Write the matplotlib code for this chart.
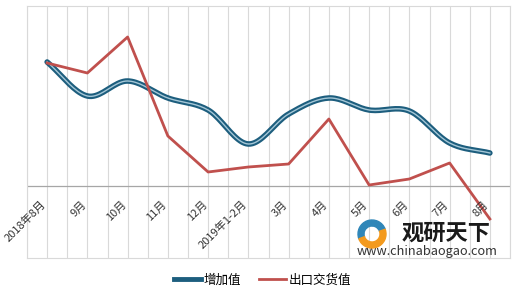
import numpy as np
import matplotlib
matplotlib.use("Agg")
import matplotlib.pyplot as plt
from matplotlib.patches import Wedge
from matplotlib.lines import Line2D

plt.rcParams['font.family'] = ['Noto Sans CJK SC', 'DejaVu Sans']

categories = ["2018年8月", "9月", "10月", "11月", "12月", "2019年1-2月",
              "3月", "4月", "5月", "6月", "7月", "8月"]
added_value = [12.4, 9.0, 10.5, 8.8, 7.6, 4.2, 7.2, 8.8, 7.6, 7.5, 4.3, 3.3]
export_value = [12.3, 11.3, 14.9, 5.0, 1.4, 1.9, 2.2, 6.7, 0.1, 0.7, 2.3, -3.3]

def catmull_rom(x, y, n=20):
    x = np.asarray(x, float); y = np.asarray(y, float)
    px = np.concatenate([[2*x[0]-x[1]], x, [2*x[-1]-x[-2]]])
    py = np.concatenate([[2*y[0]-y[1]], y, [2*y[-1]-y[-2]]])
    xs, ys = [], []
    t = np.linspace(0, 1, n, endpoint=False)
    def cr(a0, a1, a2, a3):
        return 0.5*((2*a1) + (-a0+a2)*t + (2*a0-5*a1+4*a2-a3)*t**2 + (-a0+3*a1-3*a2+a3)*t**3)
    for i in range(1, len(px)-2):
        xs.append(cr(px[i-1], px[i], px[i+1], px[i+2]))
        ys.append(cr(py[i-1], py[i], py[i+1], py[i+2]))
    xs.append([x[-1]]); ys.append([y[-1]])
    return np.concatenate(xs), np.concatenate(ys)

fig = plt.figure(figsize=(5.2, 2.94), dpi=100)
ax = fig.add_axes([27/520, 1-258/294, (510-27)/520, (258-6)/294])

x = np.arange(len(categories))
ax.set_xlim(-0.5, len(categories)-0.5)
ax.set_ylim(-7.2, 18)

for g in np.arange(-0.5, len(categories), 0.5):
    ax.axvline(g, color='#d9d9d9', lw=0.8, zorder=0)
ax.axhline(0, color='#a6a6a6', lw=0.9, zorder=1)

for s in ax.spines.values():
    s.set_color('#d9d9d9')
    s.set_linewidth(0.8)
ax.set_xticks([]); ax.set_yticks([])

sx, sy = catmull_rom(x, added_value)
ax.plot(sx, sy, color='#1d5e7e', lw=4.0, solid_capstyle='round', zorder=3)
ax.plot(sx, sy, color='#a5c7d7', lw=1.0, zorder=4)
ax.plot(x, export_value, color='#c0504d', lw=2.0, zorder=5)

for i, c in enumerate(categories):
    ax.text(i + 0.02, -1.3, c, rotation=45, ha='right', va='top',
            fontsize=8, color='#333333', zorder=6)

# watermark
ax.text(0.776, 0.10, "观研天下", transform=ax.transAxes, fontsize=16,
        fontweight='bold', color='#1a1a1a', ha='left', va='center', zorder=2)
ax.text(0.683, 0.025, "www.chinabaogao.com", transform=ax.transAxes, fontsize=9.2,
        color='#333333', ha='left', va='center', zorder=2)
cx, cy = 372, 294-234
w1 = Wedge((cx, cy), 14, 20, 200, width=6, color='#2f86b8', transform=None, zorder=2)
w2 = Wedge((cx, cy), 14, 200, 380, width=6, color='#f39a1e', transform=None, zorder=2)
fig.add_artist(w1); fig.add_artist(w2)

h1 = Line2D([], [], color='#1d5e7e', lw=3.5)
h2 = Line2D([], [], color='#c0504d', lw=2.0)
fig.legend([h1, h2], ["增加值", "出口交货值"], loc='center', bbox_to_anchor=(0.505, 1-280/294),
           ncol=2, frameon=False, fontsize=9, handlelength=2.2, columnspacing=1.4,
           handletextpad=0.2)

fig.savefig("out.png", dpi=100)
